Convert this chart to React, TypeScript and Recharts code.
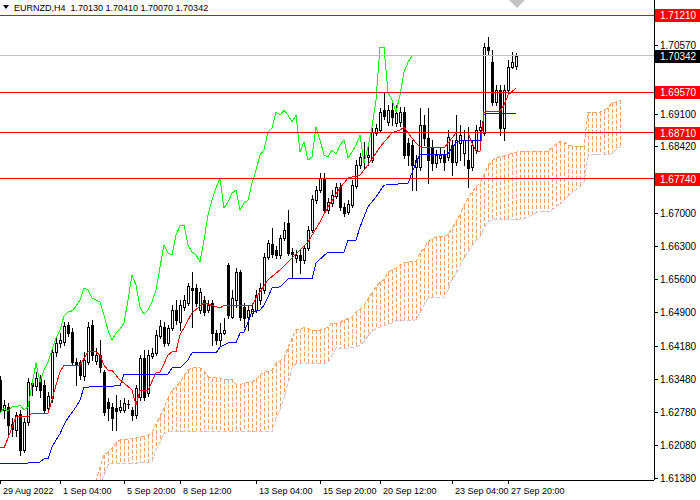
import { ComposedChart, Bar, Line, XAxis, YAxis, ReferenceLine } from 'recharts';

// EURNZD H4 candles with Ichimoku (tenkan, kijun, chikou, kumo) and horizontal levels

const openPrices = [
  1.6346, 1.6283, 1.6289, 1.6253, 1.6240, 1.6274, 1.6198, 1.6257, 1.6340, 1.6334,
  1.6351, 1.6336, 1.6287, 1.6308, 1.6406, 1.6425, 1.6427, 1.6463, 1.6448, 1.6384,
  1.6384, 1.6355, 1.6384, 1.6463, 1.6387, 1.6399, 1.6363, 1.6300, 1.6289, 1.6287,
  1.6283, 1.6283, 1.6295, 1.6283, 1.6272, 1.6310, 1.6393, 1.6319, 1.6397, 1.6404,
  1.6440, 1.6459, 1.6425, 1.6457, 1.6495, 1.6469, 1.6501, 1.6510, 1.6542, 1.6542,
  1.6495, 1.6516, 1.6495, 1.6510, 1.6446, 1.6431, 1.6446, 1.6590, 1.6480, 1.6516,
  1.6576, 1.6501, 1.6480, 1.6489, 1.6495, 1.6516, 1.6537, 1.6607, 1.6635, 1.6622,
  1.6612, 1.6648, 1.6680, 1.6618, 1.6605, 1.6612, 1.6601, 1.6626, 1.6665, 1.6728,
  1.6750, 1.6775, 1.6707, 1.6722, 1.6737, 1.6756, 1.6714, 1.6703, 1.6718, 1.6758,
  1.6803, 1.6822, 1.6820, 1.6813, 1.6871, 1.6877, 1.6919, 1.6894, 1.6919, 1.6892,
  1.6894, 1.6915, 1.6849, 1.6845, 1.6798, 1.6798, 1.6888, 1.6860, 1.6839, 1.6807,
  1.6818, 1.6824, 1.6820, 1.6845, 1.6809, 1.6849, 1.6828, 1.6813, 1.6798, 1.6835,
  1.6877, 1.6871, 1.7053, 1.7021, 1.6936, 1.6962, 1.6881, 1.6962, 1.7011, 1.7013,
];

const highPrices = [
  1.6355, 1.6304, 1.6297, 1.6266, 1.6278, 1.6283, 1.6266, 1.6351, 1.6346, 1.6363,
  1.6357, 1.6346, 1.6321, 1.6414, 1.6435, 1.6446, 1.6469, 1.6469, 1.6457, 1.6393,
  1.6389, 1.6406, 1.6469, 1.6474, 1.6414, 1.6431, 1.6367, 1.6308, 1.6297, 1.6314,
  1.6304, 1.6308, 1.6304, 1.6289, 1.6336, 1.6399, 1.6410, 1.6410, 1.6414, 1.6452,
  1.6474, 1.6469, 1.6463, 1.6505, 1.6516, 1.6516, 1.6527, 1.6552, 1.6576, 1.6550,
  1.6542, 1.6525, 1.6516, 1.6516, 1.6452, 1.6467, 1.6478, 1.6595, 1.6537, 1.6584,
  1.6580, 1.6510, 1.6505, 1.6505, 1.6537, 1.6552, 1.6616, 1.6643, 1.6669, 1.6631,
  1.6654, 1.6682, 1.6707, 1.6626, 1.6622, 1.6622, 1.6633, 1.6673, 1.6739, 1.6758,
  1.6786, 1.6786, 1.6733, 1.6750, 1.6764, 1.6764, 1.6722, 1.6728, 1.6771, 1.6813,
  1.6828, 1.6852, 1.6841, 1.6881, 1.6890, 1.6924, 1.6956, 1.6930, 1.6941, 1.6930,
  1.6926, 1.6926, 1.6860, 1.6856, 1.6824, 1.6924, 1.6909, 1.6924, 1.6856, 1.6835,
  1.6839, 1.6835, 1.6877, 1.6856, 1.6909, 1.6888, 1.6877, 1.6883, 1.6856, 1.6888,
  1.6898, 1.7062, 1.7074, 1.7047, 1.6973, 1.6973, 1.6973, 1.7026, 1.7043, 1.7041,
];

const lowPrices = [
  1.6278, 1.6266, 1.6229, 1.6227, 1.6227, 1.6187, 1.6193, 1.6251, 1.6314, 1.6325,
  1.6310, 1.6276, 1.6278, 1.6300, 1.6397, 1.6416, 1.6421, 1.6440, 1.6378, 1.6336,
  1.6348, 1.6346, 1.6380, 1.6389, 1.6380, 1.6363, 1.6272, 1.6261, 1.6240, 1.6240,
  1.6278, 1.6278, 1.6287, 1.6261, 1.6266, 1.6304, 1.6304, 1.6312, 1.6393, 1.6399,
  1.6435, 1.6418, 1.6421, 1.6452, 1.6465, 1.6452, 1.6495, 1.6505, 1.6459, 1.6503,
  1.6489, 1.6484, 1.6491, 1.6421, 1.6423, 1.6421, 1.6444, 1.6478, 1.6478, 1.6501,
  1.6474, 1.6459, 1.6452, 1.6482, 1.6491, 1.6508, 1.6531, 1.6603, 1.6607, 1.6605,
  1.6605, 1.6643, 1.6612, 1.6565, 1.6597, 1.6573, 1.6595, 1.6622, 1.6660, 1.6722,
  1.6745, 1.6701, 1.6701, 1.6716, 1.6733, 1.6707, 1.6694, 1.6699, 1.6714, 1.6754,
  1.6796, 1.6796, 1.6803, 1.6809, 1.6866, 1.6873, 1.6900, 1.6888, 1.6888, 1.6886,
  1.6886, 1.6818, 1.6803, 1.6750, 1.6750, 1.6792, 1.6845, 1.6764, 1.6792, 1.6798,
  1.6809, 1.6792, 1.6813, 1.6781, 1.6803, 1.6813, 1.6803, 1.6756, 1.6792, 1.6828,
  1.6871, 1.6866, 1.7036, 1.6930, 1.6930, 1.6866, 1.6856, 1.6956, 1.7009, 1.7007,
];

const closePrices = [
  1.6283, 1.6293, 1.6251, 1.6242, 1.6272, 1.6198, 1.6257, 1.6342, 1.6334, 1.6351,
  1.6325, 1.6283, 1.6312, 1.6406, 1.6425, 1.6431, 1.6461, 1.6446, 1.6384, 1.6378,
  1.6357, 1.6389, 1.6459, 1.6399, 1.6399, 1.6374, 1.6278, 1.6287, 1.6266, 1.6280,
  1.6289, 1.6297, 1.6296, 1.6272, 1.6329, 1.6393, 1.6310, 1.6399, 1.6404, 1.6442,
  1.6461, 1.6425, 1.6457, 1.6495, 1.6474, 1.6505, 1.6516, 1.6546, 1.6537, 1.6510,
  1.6533, 1.6491, 1.6505, 1.6446, 1.6431, 1.6446, 1.6452, 1.6484, 1.6520, 1.6576,
  1.6480, 1.6478, 1.6495, 1.6497, 1.6527, 1.6542, 1.6607, 1.6637, 1.6614, 1.6612,
  1.6648, 1.6665, 1.6616, 1.6614, 1.6612, 1.6601, 1.6626, 1.6665, 1.6731, 1.6750,
  1.6775, 1.6707, 1.6724, 1.6739, 1.6756, 1.6714, 1.6701, 1.6720, 1.6760, 1.6803,
  1.6820, 1.6820, 1.6824, 1.6873, 1.6881, 1.6915, 1.6907, 1.6919, 1.6905, 1.6913,
  1.6915, 1.6824, 1.6824, 1.6803, 1.6813, 1.6888, 1.6860, 1.6813, 1.6807, 1.6824,
  1.6824, 1.6809, 1.6862, 1.6809, 1.6856, 1.6866, 1.6856, 1.6796, 1.6845, 1.6877,
  1.6883, 1.7053, 1.7047, 1.6936, 1.6962, 1.6881, 1.6962, 1.7011, 1.7021, 1.70342,
];

// tenkan-sen / kijun-sen read at the bars where they change
const tenkanBars = [
  0, 1, 2, 4, 7, 8, 12, 13, 14, 15, 16, 20, 22, 24, 25, 26, 27, 28, 30, 31,
  33, 34, 35, 37, 39, 40, 42, 43, 44, 45, 46, 48, 51, 55, 56, 63, 64, 67, 70, 75,
  77, 80, 82, 85, 87, 90, 92, 95, 98, 100, 101, 102, 104, 105, 111, 112, 114, 117, 118, 119,
  120, 121, 125, 126, 127, 129,
];
const tenkanValues = [
  1.6202, 1.6202, 1.6223, 1.6268, 1.6268, 1.6276, 1.6276, 1.6304, 1.6336, 1.6363,
  1.6378, 1.6378, 1.6406, 1.6406, 1.6399, 1.6378, 1.6367, 1.6367, 1.6346, 1.6340,
  1.6325, 1.6293, 1.6325, 1.6325, 1.6361, 1.6363, 1.6399, 1.6406, 1.6406, 1.6442,
  1.6457, 1.6489, 1.6510, 1.6499, 1.6505, 1.6505, 1.6520, 1.6559, 1.6580, 1.6622,
  1.6639, 1.6682, 1.6714, 1.6754, 1.6775, 1.6781, 1.6803, 1.6841, 1.6871, 1.6877,
  1.6883, 1.6871, 1.6849, 1.6841, 1.6839, 1.6849, 1.6871, 1.6871, 1.6849, 1.6832,
  1.6832, 1.6915, 1.6917, 1.6930, 1.6951, 1.6966,
];

const kijunBars = [
  0, 7, 8, 10, 11, 12, 13, 14, 15, 16, 17, 19, 20, 21, 30, 31, 42, 43, 45, 47,
  48, 54, 55, 57, 59, 60, 61, 62, 63, 65, 66, 67, 68, 70, 72, 78, 79, 82, 86, 87,
  89, 90, 92, 94, 96, 102, 103, 104, 105, 112, 113, 114, 115, 120, 121, 122, 129,
];
const kijunValues = [
  1.6170, 1.6170, 1.6172, 1.6172, 1.6179, 1.6179, 1.6204, 1.6219, 1.6232, 1.6251,
  1.6266, 1.6289, 1.6304, 1.6331, 1.6334, 1.6359, 1.6359, 1.6372, 1.6372, 1.6389,
  1.6404, 1.6404, 1.6416, 1.6425, 1.6425, 1.6446, 1.6448, 1.6469, 1.6491, 1.6495,
  1.6505, 1.6522, 1.6542, 1.6544, 1.6561, 1.6561, 1.6595, 1.6618, 1.6618, 1.6643,
  1.6643, 1.6671, 1.6714, 1.6735, 1.6760, 1.6764, 1.6786, 1.6807, 1.6826, 1.6826,
  1.6839, 1.6849, 1.6854, 1.6854, 1.6909, 1.6913, 1.6913,
];

// chikou span, from the first visible bar
const chikouValues = [
  1.6276, 1.6287, 1.6280, 1.6289, 1.6289, 1.6293, 1.6283, 1.6289, 1.6336, 1.6382,
  1.6342, 1.6367, 1.6384, 1.6410, 1.6435, 1.6452, 1.6482, 1.6491, 1.6493, 1.6503,
  1.6516, 1.6542, 1.6537, 1.6520, 1.6516, 1.6512, 1.6484, 1.6452, 1.6431, 1.6446,
  1.6455, 1.6467, 1.6516, 1.6569, 1.6548, 1.6501, 1.6486, 1.6495, 1.6512, 1.6537,
  1.6586, 1.6633, 1.6616, 1.6612, 1.6654, 1.6673, 1.6675, 1.6633, 1.6618, 1.6612,
  1.6597, 1.6643, 1.6697, 1.6728, 1.6754, 1.6775, 1.6711, 1.6724, 1.6743, 1.6750,
  1.6707, 1.6722, 1.6728, 1.6764, 1.6792, 1.6824, 1.6835, 1.6873, 1.6881, 1.6915,
  1.6909, 1.6919, 1.6909, 1.6894, 1.6909, 1.6830, 1.6852, 1.6813, 1.6820, 1.6883,
  1.6856, 1.6824, 1.6820, 1.6835, 1.6826, 1.6845, 1.6856, 1.6818, 1.6830, 1.6845,
  1.6866, 1.6807, 1.6841, 1.6883, 1.6941, 1.7053, 1.7053, 1.6956, 1.6941, 1.6915,
  1.6951, 1.7000, 1.7021, 1.7034,
];

// senkou spans A and B, starting at bar 24 and running 26 bars past the last candle
const cloudFirstBar = 24;
const senkouA = [
  1.6130, 1.6162, 1.6187, 1.6193, 1.6202, 1.6213, 1.6219, 1.6219, 1.6219, 1.6223,
  1.6223, 1.6225, 1.6227, 1.6229, 1.6234, 1.6253, 1.6268, 1.6287, 1.6308, 1.6325,
  1.6331, 1.6342, 1.6355, 1.6367, 1.6372, 1.6372, 1.6372, 1.6365, 1.6353, 1.6351,
  1.6351, 1.6351, 1.6346, 1.6348, 1.6348, 1.6338, 1.6336, 1.6340, 1.6342, 1.6342,
  1.6348, 1.6357, 1.6363, 1.6365, 1.6367, 1.6382, 1.6387, 1.6393, 1.6414, 1.6435,
  1.6452, 1.6455, 1.6457, 1.6455, 1.6452, 1.6452, 1.6452, 1.6455, 1.6459, 1.6467,
  1.6467, 1.6467, 1.6474, 1.6476, 1.6480, 1.6491, 1.6497, 1.6505, 1.6518, 1.6531,
  1.6544, 1.6554, 1.6559, 1.6576, 1.6580, 1.6584, 1.6590, 1.6595, 1.6597, 1.6597,
  1.6597, 1.6616, 1.6626, 1.6639, 1.6646, 1.6650, 1.6650, 1.6650, 1.6656, 1.6667,
  1.6682, 1.6697, 1.6716, 1.6733, 1.6745, 1.6756, 1.6764, 1.6781, 1.6801, 1.6811,
  1.6818, 1.6820, 1.6822, 1.6824, 1.6828, 1.6830, 1.6832, 1.6832, 1.6832, 1.6832,
  1.6832, 1.6832, 1.6832, 1.6832, 1.6839, 1.6847, 1.6852, 1.6852, 1.6845, 1.6843,
  1.6843, 1.6843, 1.6843, 1.6915, 1.6915, 1.6915, 1.6915, 1.6919, 1.6924, 1.6934,
  1.6936, 1.6941,
];
const senkouB = [
  1.6113, 1.6123, 1.6145, 1.6164, 1.6170, 1.6170, 1.6170, 1.6170, 1.6170, 1.6170,
  1.6170, 1.6170, 1.6172, 1.6172, 1.6172, 1.6198, 1.6215, 1.6232, 1.6236, 1.6236,
  1.6236, 1.6236, 1.6236, 1.6236, 1.6236, 1.6236, 1.6236, 1.6236, 1.6236, 1.6236,
  1.6236, 1.6236, 1.6236, 1.6236, 1.6236, 1.6236, 1.6236, 1.6236, 1.6236, 1.6236,
  1.6236, 1.6236, 1.6236, 1.6236, 1.6236, 1.6266, 1.6283, 1.6308, 1.6338, 1.6372,
  1.6382, 1.6382, 1.6382, 1.6382, 1.6382, 1.6382, 1.6382, 1.6382, 1.6382, 1.6399,
  1.6414, 1.6414, 1.6414, 1.6414, 1.6416, 1.6416, 1.6421, 1.6427, 1.6440, 1.6450,
  1.6455, 1.6459, 1.6461, 1.6465, 1.6467, 1.6472, 1.6472, 1.6472, 1.6472, 1.6472,
  1.6474, 1.6489, 1.6505, 1.6520, 1.6522, 1.6522, 1.6522, 1.6522, 1.6537, 1.6559,
  1.6573, 1.6588, 1.6605, 1.6618, 1.6631, 1.6643, 1.6650, 1.6669, 1.6682, 1.6686,
  1.6686, 1.6686, 1.6686, 1.6686, 1.6686, 1.6686, 1.6686, 1.6688, 1.6692, 1.6697,
  1.6701, 1.6703, 1.6703, 1.6703, 1.6707, 1.6714, 1.6720, 1.6728, 1.6737, 1.6743,
  1.6750, 1.6756, 1.6767, 1.6820, 1.6824, 1.6824, 1.6824, 1.6824, 1.6824, 1.6828,
  1.6835, 1.6841,
];

const timeTickBars = [0, 15, 31, 45, 64, 80, 95, 113, 127];
const timeTickLabels = [
  '29 Aug 2022', '1 Sep 04:00', '5 Sep 20:00', '8 Sep 12:00', '13 Sep 04:00',
  '15 Sep 20:00', '20 Sep 12:00', '23 Sep 04:00', '27 Sep 20:00',
];

const scaleTicks = [
  1.7057, 1.691, 1.6842, 1.67, 1.663, 1.656, 1.649, 1.6418, 1.6348, 1.6278, 1.6208, 1.6138,
];
const levelPrices = [1.7121, 1.6957, 1.6871, 1.6774];
const lastPrice = 1.70342;

const symbolName = 'EURNZD,H4';
const slotCount = 164;
const FONT = '"Liberation Sans", Arial, sans-serif';
const KUMO = '#F4A460';

const rows: any[] = Array.from({ length: slotCount }, (_, i) => {
  const row: any = { i };
  const lows: number[] = [];
  const highs: number[] = [];
  if (i < openPrices.length) {
    row.o = openPrices[i];
    row.h = highPrices[i];
    row.l = lowPrices[i];
    row.c = closePrices[i];
    lows.push(lowPrices[i]);
    highs.push(highPrices[i]);
  }
  if (i < chikouValues.length) row.chikou = chikouValues[i];
  const k = i - cloudFirstBar;
  if (k >= 0 && k < senkouA.length) {
    row.spanA = senkouA[k];
    row.spanB = senkouB[k];
    lows.push(Math.min(senkouA[k], senkouB[k]));
    highs.push(Math.max(senkouA[k], senkouB[k]));
  }
  // one bar per slot carries both the candle and the kumo hatch
  if (lows.length) row.span = [Math.min(...lows), Math.max(...highs)];
  return row;
});
tenkanBars.forEach((b, n) => { rows[b].tenkan = tenkanValues[n]; });
kijunBars.forEach((b, n) => { rows[b].kijun = kijunValues[n]; });

function SlotShape(props: any) {
  const { x, y, width, height, payload } = props;
  if (!payload || !payload.span) return null;
  const [lo, hi] = payload.span;
  const k = hi > lo ? height / (hi - lo) : 0;
  const py = (p: number) => Math.round(y + (hi - p) * k);
  const cx = Math.floor(x + width / 2);
  const parts: any[] = [];

  if (payload.spanA != null) {
    // MT4 draws the kumo as one dotted vertical line per bar, from span A down to span B
    const top = py(Math.max(payload.spanA, payload.spanB));
    const bot = py(Math.min(payload.spanA, payload.spanB));
    for (let yy = top; yy < bot; yy += 6) {
      parts.push(
        <rect key={`k${yy}`} x={cx} y={yy} width={1} height={Math.min(4, bot - yy)} fill={KUMO} />,
      );
    }
  }

  if (payload.o != null) {
    const { o, h, l, c } = payload;
    const yH = py(h);
    const yL = py(l);
    const top = Math.min(py(o), py(c));
    const bot = Math.max(py(o), py(c));
    parts.push(<rect key="w" x={cx} y={yH} width={1} height={yL - yH + 1} fill="#000" />);
    parts.push(<rect key="b" x={cx - 1} y={top} width={3} height={bot - top + 1} fill="#000" />);
    if (c >= o && bot - top >= 2) {
      parts.push(<rect key="f" x={cx} y={top + 1} width={1} height={bot - top - 1} fill="#fff" />);
    }
  }
  return <g shapeRendering="crispEdges">{parts}</g>;
}

function PriceTick(props: any) {
  const { x, y, payload } = props;
  const v: number = payload.value;
  const yy = Math.round(y);
  const label = v.toFixed(5);
  const isLevel = levelPrices.includes(v);
  if (isLevel || v === lastPrice) {
    return (
      <g>
        <rect x={x + 1} y={yy - 6} width={45} height={13} fill={isLevel ? '#ff0000' : '#000'} />
        <text x={x + 6} y={yy + 4} fill="#fff" fontSize={10} fontFamily={FONT}>{label}</text>
      </g>
    );
  }
  return (
    <g>
      <rect x={x} y={yy} width={4} height={1} fill="#000" />
      <text x={x + 6} y={yy + 4} fill="#000" fontSize={10} fontFamily={FONT}>{label}</text>
    </g>
  );
}

function TimeTick(props: any) {
  const { x, y, payload } = props;
  const n = timeTickBars.indexOf(payload.value);
  const px = Math.floor(x);
  return (
    <g>
      <rect x={px} y={y} width={1} height={4} fill="#000" />
      <text x={px + 3} y={y + 14} fill="#000" fontSize={9} fontFamily={FONT}>{timeTickLabels[n]}</text>
    </g>
  );
}

export default function App() {
  const last = openPrices.length - 1;
  const quote = [openPrices[last], highPrices[last], lowPrices[last], closePrices[last]]
    .map((p) => p.toFixed(5))
    .join(' ');

  return (
    <div style={{ position: 'absolute', left: 0, top: 0, width: 700, height: 500, background: '#fff', overflow: 'hidden' }}>
      <style>{`
        .recharts-line-curve, .recharts-cartesian-axis-line, .recharts-reference-line-line { shape-rendering: crispEdges; }
      `}</style>
      <div style={{ position: 'absolute', left: -2, top: 0 }}>
        <ComposedChart
          width={702}
          height={500}
          data={rows}
          margin={{ top: 0, right: 0, bottom: 0, left: 0 }}
          barCategoryGap={0}
          barGap={0}
        >
          <XAxis
            dataKey="i"
            type="category"
            height={20}
            interval={0}
            ticks={timeTickBars}
            tick={(p: any) => <TimeTick {...p} />}
            tickLine={false}
            tickSize={0}
            tickMargin={0}
            axisLine={{ stroke: '#000' }}
          />
          <YAxis
            orientation="right"
            type="number"
            width={46}
            domain={[1.6134, 1.7153]}
            allowDataOverflow
            interval={0}
            ticks={[...scaleTicks, ...levelPrices, lastPrice]}
            tick={(p: any) => <PriceTick {...p} />}
            tickLine={false}
            tickSize={0}
            tickMargin={0}
            axisLine={{ stroke: '#000' }}
          />
          <Line dataKey="spanA" stroke={KUMO} strokeDasharray="4 2" dot={false} activeDot={false} isAnimationActive={false} />
          <Line dataKey="spanB" stroke="#D8BFD8" strokeDasharray="4 2" dot={false} activeDot={false} isAnimationActive={false} />
          <Bar dataKey="span" shape={(p: any) => <SlotShape {...p} />} isAnimationActive={false} />
          <Line dataKey="chikou" stroke="#00ff00" dot={false} activeDot={false} connectNulls isAnimationActive={false} />
          <Line dataKey="kijun" stroke="#0000ff" dot={false} activeDot={false} connectNulls isAnimationActive={false} />
          <Line dataKey="tenkan" stroke="#ff0000" dot={false} activeDot={false} connectNulls isAnimationActive={false} />
          <ReferenceLine y={lastPrice} stroke="#c0c0c0" />
          {levelPrices.map((p) => (
            <ReferenceLine key={p} y={p} stroke="#ff0000" />
          ))}
        </ComposedChart>
      </div>
      <svg width={700} height={16} style={{ position: 'absolute', left: 0, top: 0 }}>
        <polygon points="3,5 9,5 6,9" fill="#000" />
        <text x={14} y={11} fontSize={9} fontFamily={FONT} fill="#000" style={{ whiteSpace: 'pre' }}>
          {`${symbolName}  ${quote}`}
        </text>
        <polygon points="509,0 525,0 517,8" fill="#c4c4c4" />
      </svg>
    </div>
  );
}
